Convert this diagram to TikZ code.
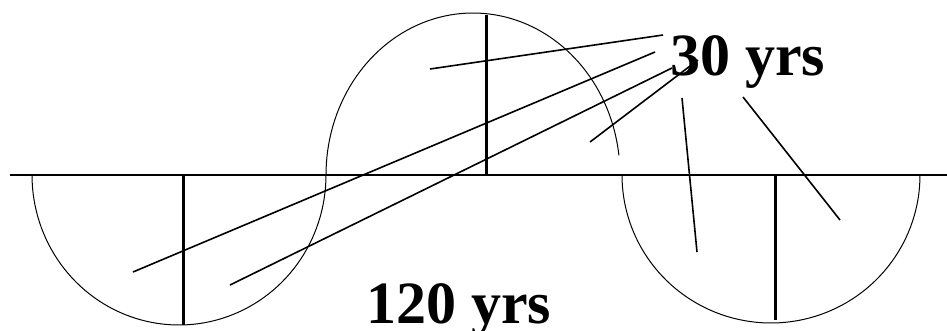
\documentclass[tikz,border=0pt]{standalone}
\usepackage{fontspec}
\setmainfont{Liberation Serif}
\begin{document}
\begin{tikzpicture}[x=1pt,y=-1pt,
  arcline/.style={line width=1pt},
  axisline/.style={line width=1.1pt},
  radius/.style={line width=3pt},
  pointer/.style={line width=1.6pt},
  bigtext/.style={font=\bfseries\fontsize{60}{60}\selectfont, anchor=base west, inner sep=0pt}]
\useasboundingbox (0,0) rectangle (947,330);
% baseline
\coordinate (bl) at (10,175);
\coordinate (br) at (947,175);
\draw[axisline] (bl) -- (br);
% semicircles
\draw[arcline] plot[domain=180:360, samples=80] ({179+147*cos(\x)}, {175-150*sin(\x)});
\draw[arcline] plot[domain=7:180, samples=80] ({473+147*cos(\x)}, {175-162*sin(\x)});
\draw[arcline] plot[domain=180:360, samples=80] ({771+149*cos(\x)}, {175-148*sin(\x)});
% radii
\coordinate (r1a) at (183,175); \coordinate (r1b) at (183,325);
\coordinate (r2a) at (486,15);  \coordinate (r2b) at (486,175);
\coordinate (r3a) at (775,175); \coordinate (r3b) at (775,320);
\draw[radius] (r1a) -- (r1b);
\draw[radius] (r2a) -- (r2b);
\draw[radius] (r3a) -- (r3b);
% labels
\node[bigtext] (t30) at (670,75) {30 yrs};
\node[bigtext] (t120) at (366,323) {120 yrs};
% pointer lines
\coordinate (p1s) at (663,35);  \coordinate (p1e) at (430,69);
\coordinate (p2s) at (655,52);  \coordinate (p2e) at (133,272);
\coordinate (p3s) at (672,68);  \coordinate (p3e) at (230,285);
\coordinate (p4s) at (698,60);  \coordinate (p4e) at (590,142);
\coordinate (p5s) at (682,98);  \coordinate (p5e) at (697,252);
\coordinate (p6s) at (743,97);  \coordinate (p6e) at (840,220);
\draw[pointer] (p1s) -- (p1e);
\draw[pointer] (p2s) -- (p2e);
\draw[pointer] (p3s) -- (p3e);
\draw[pointer] (p4s) -- (p4e);
\draw[pointer] (p5s) -- (p5e);
\draw[pointer] (p6s) -- (p6e);
\end{tikzpicture}
\end{document}
